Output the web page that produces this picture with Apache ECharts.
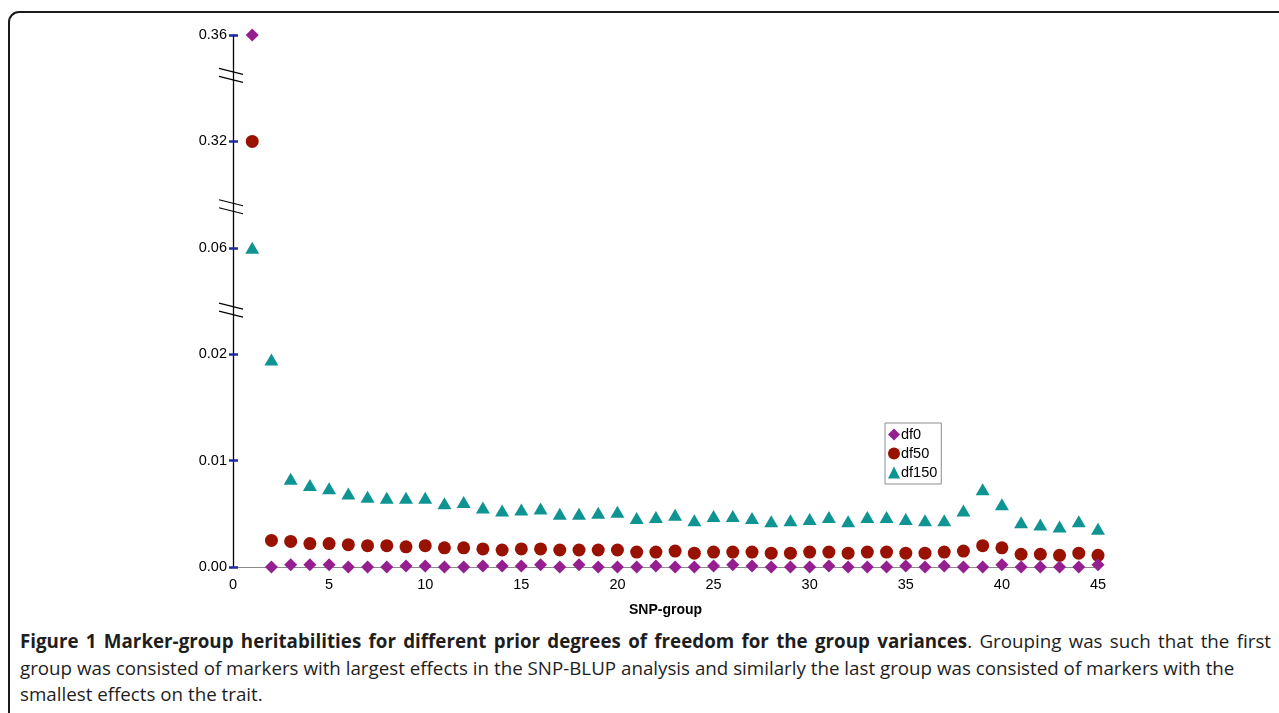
<!DOCTYPE html>
<html>
<head>
<meta charset="utf-8">
<script src="https://cdn.jsdelivr.net/npm/echarts@6/dist/echarts.min.js"></script>
<style>
  html, body { margin: 0; padding: 0; background: #fff; width: 1279px; height: 713px; overflow: hidden; }
  #frame { position: absolute; left: 8px; top: 11px; width: 1300px; height: 760px; border: 2px solid #1a1a1a; border-radius: 11px; box-sizing: border-box; }
  #chart { position: absolute; left: 0; top: 0; width: 1279px; height: 622px; }
  #caption { position: absolute; left: 20px; top: 628px; width: 1251px; font-family: "Open Sans", sans-serif; font-size: 18.75px; color: #1e1e1e; line-height: 26.5px; }
  #caption .l1 { text-align: justify; text-align-last: justify; white-space: nowrap; }
  #caption div { white-space: nowrap; }
</style>
</head>
<body>
<div id="frame"></div>
<div id="chart"></div>
<div id="caption">
  <div class="l1"><b>Figure 1 Marker-group heritabilities for different prior degrees of freedom for the group variances</b>. Grouping was such that the first</div>
  <div>group was consisted of markers with largest effects in the SNP-BLUP analysis and similarly the last group was consisted of markers with the</div>
  <div>smallest effects on the trait.</div>
</div>
<script>
// ---- data ----
const groups = Array.from({length: 45}, (_, i) => i + 1);
const df0 = [0.36, 0.0000, 0.0002, 0.0002, 0.0002, 0.0000, 0.0000, 0.0000, 0.0001, 0.0001,
             0.0000, 0.0000, 0.0001, 0.0001, 0.0001, 0.0002, 0.0000, 0.0002, 0.0000, 0.0000,
             0.0000, 0.0001, 0.0000, 0.0000, 0.0001, 0.0002, 0.0001, 0.0000, 0.0000, 0.0000,
             0.0001, 0.0000, 0.0000, 0.0000, 0.0001, 0.0000, 0.0001, 0.0000, 0.0000, 0.0002,
             0.0000, 0.0000, 0.0000, 0.0000, 0.0002];
const df50 = [0.32, 0.0025, 0.0024, 0.0022, 0.0022, 0.0021, 0.0020, 0.0020, 0.0019, 0.0020,
              0.0018, 0.0018, 0.0017, 0.0016, 0.0017, 0.0017, 0.0016, 0.0016, 0.0016, 0.0016,
              0.0014, 0.0014, 0.0015, 0.0013, 0.0014, 0.0014, 0.0014, 0.0013, 0.0013, 0.0014,
              0.0014, 0.0013, 0.0014, 0.0014, 0.0013, 0.0013, 0.0014, 0.0015, 0.0020, 0.0018,
              0.0012, 0.0012, 0.0011, 0.0013, 0.0011];
const df150 = [0.06, 0.0195, 0.0083, 0.0077, 0.0074, 0.0069, 0.0066, 0.0065, 0.0065, 0.0065,
               0.0060, 0.0061, 0.0056, 0.0053, 0.0054, 0.0055, 0.0050, 0.0050, 0.0051, 0.0052,
               0.0046, 0.0047, 0.0049, 0.0044, 0.0048, 0.0048, 0.0046, 0.0043, 0.0044, 0.0045,
               0.0047, 0.0043, 0.0047, 0.0047, 0.0045, 0.0044, 0.0044, 0.0053, 0.0073, 0.0059,
               0.0042, 0.0040, 0.0038, 0.0043, 0.0036];
const seriesNames = ['df0', 'df50', 'df150'];
const yTickValues = [0, 0.01, 0.02, 0.06, 0.32, 0.36];
const yTickLabels = ['0.00', '0.01', '0.02', '0.06', '0.32', '0.36'];
const breakValues = [0.0366, 0.1604, 0.3448];   // positions of the axis break marks (in data units)
const xTicks = [0, 5, 10, 15, 20, 25, 30, 35, 40, 45];

// piecewise (broken) scale: each tick segment gets equal height
function toIdx(v) {
  for (let i = 0; i < yTickValues.length - 1; i++) {
    const a = yTickValues[i], b = yTickValues[i + 1];
    if (v <= b || i === yTickValues.length - 2) return i + (v - a) / (b - a);
  }
}
const mk = arr => arr.map((v, i) => [groups[i], toIdx(v)]);

const colors = ['#951f91', '#991100', '#0f9494'];
const chart = echarts.init(document.getElementById('chart'));
const labelFont = { fontFamily: '"Liberation Sans", Arial, sans-serif', fontSize: 14.5, color: '#000' };

chart.setOption({
  animation: false,
  grid: { left: 233, top: 35, width: 865, bottom: 52, containLabel: false },
  legend: {
    orient: 'vertical', left: 885, top: 423,
    data: [
      { name: 'df0', icon: 'diamond' },
      { name: 'df50', icon: 'circle' },
      { name: 'df150', icon: 'triangle' }
    ],
    itemWidth: 12, itemHeight: 12, itemGap: 4,
    padding: [4, 4, 4, 3],
    borderColor: '#8c8c8c', borderWidth: 1,
    textStyle: { ...labelFont, fontSize: 14.5, padding: [0, 0, 0, -4] }
  },
  xAxis: {
    type: 'value', min: 0, max: 45, interval: 5,
    name: 'SNP-group', nameLocation: 'middle', nameGap: 36,
    nameTextStyle: { ...labelFont, fontWeight: 'bold', fontSize: 14 },
    axisLine: { onZero: false, lineStyle: { color: '#8a8a8a', width: 1 } },
    axisTick: { show: false },
    splitLine: { show: false },
    axisLabel: { ...labelFont, margin: 10, formatter: v => xTicks.includes(v) ? String(v) : '' }
  },
  yAxis: [{
    type: 'value', min: 0, max: yTickValues.length - 1, interval: 1,
    axisLine: { show: true, lineStyle: { color: '#000', width: 1.3 } },
    axisTick: { show: true, length: 4, lineStyle: { color: '#1a2aa0', width: 2.5 } },
    splitLine: { show: false },
    axisLabel: { ...labelFont, margin: 6, formatter: v => yTickLabels[Math.round(v)] }
  }, {
    type: 'value', min: 0, max: yTickValues.length - 1, interval: 1, position: 'left',
    axisLine: { show: false },
    axisTick: { show: true, inside: true, length: 5, lineStyle: { color: '#1a2aa0', width: 2.5 } },
    splitLine: { show: false },
    axisLabel: { show: false }
  }],
  series: [
    { name: 'df0', type: 'scatter', data: mk(df0), symbol: 'diamond', symbolSize: 13, itemStyle: { color: colors[0], opacity: 1 }, z: 5 },
    { name: 'df50', type: 'scatter', data: mk(df50), symbol: 'circle', symbolSize: 13, itemStyle: { color: colors[1], opacity: 1 }, z: 4 },
    { name: 'df150', type: 'scatter', data: mk(df150), symbol: 'triangle', symbolSize: [14, 12], itemStyle: { color: colors[2], opacity: 1 }, z: 3 },
    {
      type: 'custom', silent: true, z: 6,
      data: breakValues.map(v => [0, toIdx(v)]),
      renderItem: (params, api) => {
        const p = api.coord([api.value(0), api.value(1)]);
        const ls = { stroke: '#000', lineWidth: 1.2 };
        return {
          type: 'group', children: [
            { type: 'line', shape: { x1: p[0] - 14, y1: p[1] - 7, x2: p[0] + 10, y2: p[1] - 1 }, style: ls },
            { type: 'line', shape: { x1: p[0] - 14, y1: p[1] + 1, x2: p[0] + 10, y2: p[1] + 7 }, style: ls }
          ]
        };
      }
    }
  ]
});
</script>
</body>
</html>
